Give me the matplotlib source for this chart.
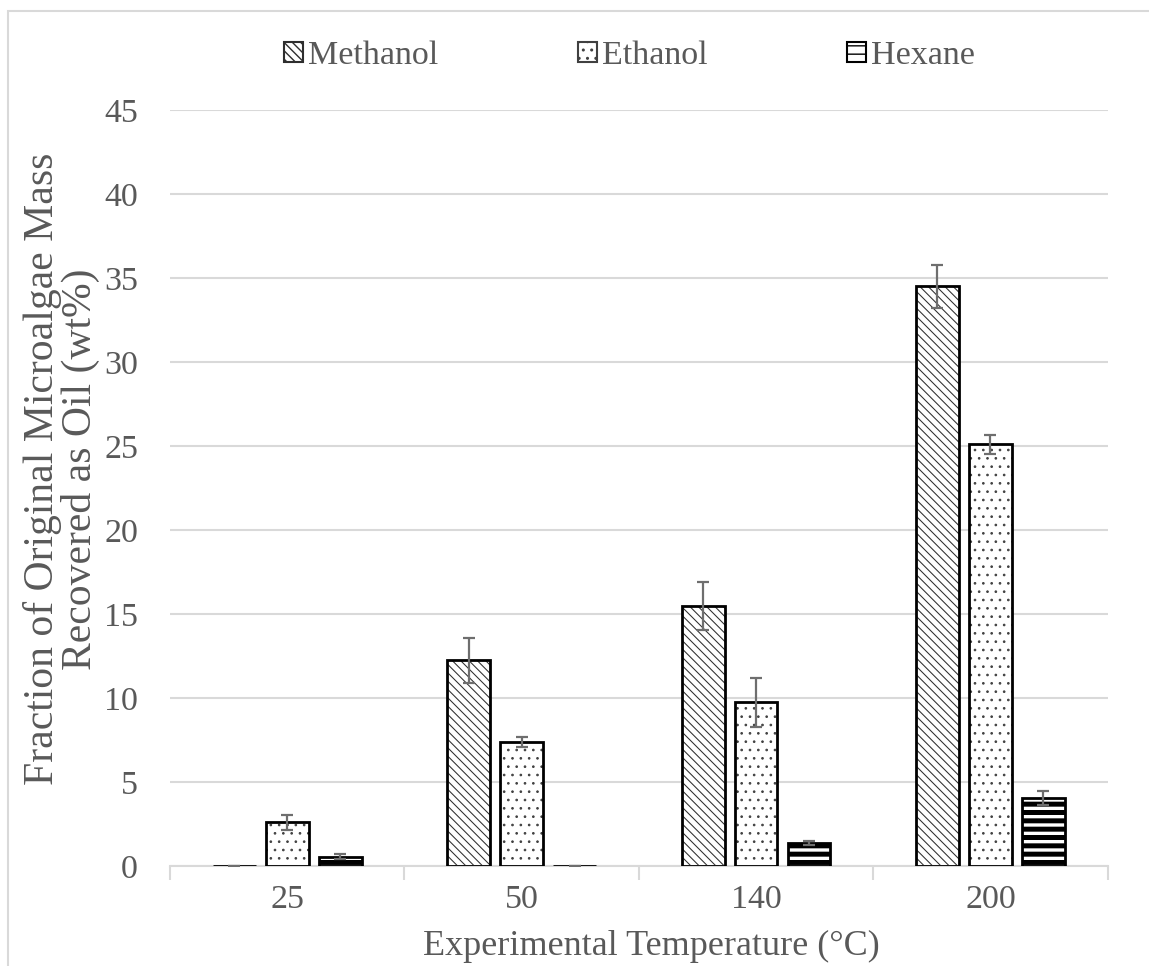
import numpy as np
import matplotlib
matplotlib.use("Agg")
import matplotlib.pyplot as plt
from matplotlib.patches import Rectangle

# données
temperatures = ["25", "50", "140", "200"]
solvants = ["Methanol", "Ethanol", "Hexane"]
methanol = [0.0, 12.25, 15.5, 34.5]
methanol_err = [0.0, 1.35, 1.42, 1.3]
ethanol = [2.6, 7.38, 9.75, 25.1]
ethanol_err = [0.43, 0.3, 1.46, 0.55]
hexane = [0.55, 0.0, 1.37, 4.05]
hexane_err = [0.16, 0.0, 0.12, 0.42]

gris_txt = "#595959"
gris_grille = "#d9d9d9"
plt.rcParams['font.family'] = ['Liberation Serif', 'DejaVu Serif']
plt.rcParams['font.size'] = 24.5

fig = plt.figure(figsize=(11.49, 9.66), dpi=100)
ax = fig.add_axes([0.148, 0.1035, 0.816, 0.7825])

# cadre gris du graphique
fig.patches.append(Rectangle((8 / 1149, -0.2), 1.2, 1.2 - 11 / 966, transform=fig.transFigure,
                             fill=False, edgecolor=gris_grille, linewidth=1.5))

x = np.arange(len(temperatures)) + 0.5
largeur = 0.183
decalage = 0.226

series = [methanol, ethanol, hexane]
erreurs = [methanol_err, ethanol_err, hexane_err]
hachures = ['\\\\\\\\', '..', '--']
coul_hach = ['#2e2e2e', '#404040', 'black']
ep_hach = [0.75, 0.7, 3.6]

handles = []
for k in range(3):
    pos = x + (k - 1) * decalage
    with plt.rc_context({'hatch.linewidth': ep_hach[k]}):
        barres = ax.bar(pos, series[k], largeur, color='white', edgecolor=coul_hach[k],
                        hatch=hachures[k], linewidth=0, zorder=2)
    for b in barres:
        if hasattr(b, 'set_hatch_linewidth'):
            b.set_hatch_linewidth(ep_hach[k])
    ax.bar(pos, series[k], largeur, fill=False, edgecolor='black', linewidth=2, zorder=3)
    ax.errorbar(pos, series[k], yerr=erreurs[k], fmt='none', ecolor='#6e6e6e',
                elinewidth=1.6, capsize=4.5, capthick=1.6, zorder=4)
    h = Rectangle((0, 0), 1, 1, facecolor='white', edgecolor=coul_hach[k] if k < 2 else 'black',
                  hatch=hachures[k], linewidth=1.5)
    handles.append(h)

ax.set_ylim(0, 45)
ax.set_xlim(0, 4)
ax.set_yticks(np.arange(0, 46, 5))
ax.yaxis.grid(True, color=gris_grille, linewidth=1.5)
ax.set_axisbelow(True)
ax.tick_params(axis='y', length=0, pad=23, colors=gris_txt, labelsize=24.5)

ax.set_xticks(np.arange(0, 5))
ax.set_xticklabels([])
ax.set_xticks(x, minor=True)
ax.set_xticklabels(temperatures, minor=True)
ax.tick_params(axis='x', which='major', length=10, width=1.5, color=gris_grille)
ax.tick_params(axis='x', which='minor', length=0, pad=13, colors=gris_txt, labelsize=24.5)

for s in ['top', 'right', 'left']:
    ax.spines[s].set_visible(False)
ax.spines['bottom'].set_color(gris_grille)
ax.spines['bottom'].set_linewidth(1.5)

ax.set_xlabel("Experimental Temperature (°C)", color=gris_txt, fontsize=26)
ax.xaxis.set_label_coords(0.513, -0.0847)
ax.set_ylabel("Fraction of Original Microalgae Mass\nRecovered as Oil (wt%)", color=gris_txt,
              fontsize=30, linespacing=0.96)
ax.yaxis.set_label_coords(-0.0746, 0.525)

leg = ax.legend(handles, solvants, loc='center', bbox_to_anchor=(0.49, 1.072), ncol=3,
                frameon=False, handlelength=0.55, handleheight=0.55, handletextpad=0.15,
                columnspacing=4.1, fontsize=24.5)
for t in leg.get_texts():
    t.set_color(gris_txt)

plt.savefig("out.png", dpi=100)
